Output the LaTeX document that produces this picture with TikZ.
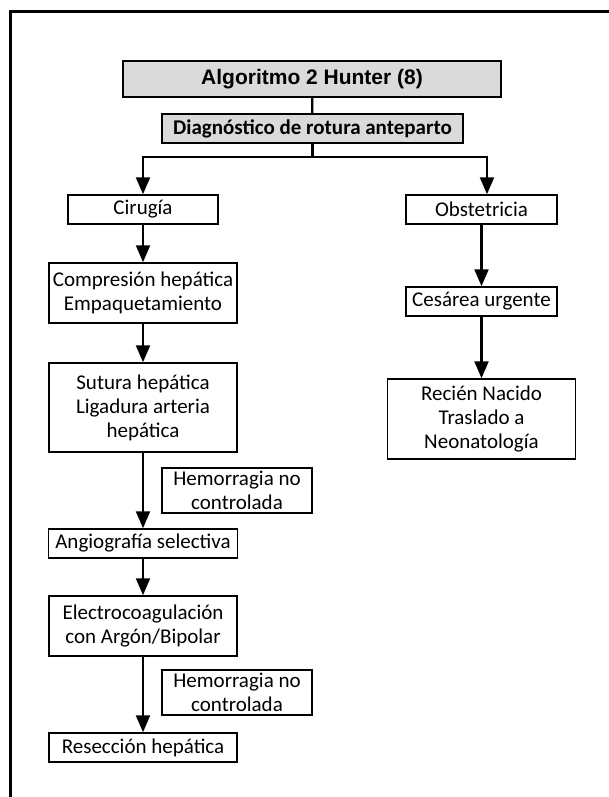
\documentclass[tikz,border=0pt]{standalone}
\usepackage{fontspec}
\setmainfont{Carlito}
\newfontfamily\arialfont{Liberation Sans}
\usetikzlibrary{arrows.meta}
\definecolor{grisclaro}{RGB}{218,218,218}
\tikzset{
  caja/.style={draw=black,line width=1.5pt,align=center,inner sep=0pt,font=\fontsize{21}{24}\selectfont},
  cajagris/.style={caja,fill=grisclaro},
  flecha/.style={line width=2.2pt,-{Triangle[length=17pt,width=14pt]}},
  linea/.style={line width=2.2pt}
}
\begin{document}
\begin{tikzpicture}[x=1pt,y=-1pt]
	\useasboundingbox (0,0) rectangle (609,797);
	\draw[line width=3pt] (609,12) -- (10,12) -- (10,797);
	% cabecera
	\node[cajagris,minimum width=378pt,minimum height=36pt,font=\arialfont\bfseries\fontsize{21}{24}\selectfont](titulo) at (312,79){Algoritmo 2 Hunter (8)};
	\node[cajagris,minimum width=301pt,minimum height=29pt,font=\bfseries\fontsize{21}{24}\selectfont](diag) at (312.5,128.5){Diagnóstico de rotura anteparto};
	\coordinate (ramal) at (312.5,157);
	% rama cirugia
	\node[caja,minimum width=150pt,minimum height=29pt](cirugia) at (143,209.5){Cirugía};
	\node[caja,minimum width=188pt,minimum height=60pt](compresion) at (143,293){Compresión hepática\\Empaquetamiento};
	\node[caja,minimum width=188pt,minimum height=89pt](sutura) at (143,407.5){Sutura hepática\\Ligadura arteria\\hepática};
	\node[caja,minimum width=150pt,minimum height=45pt](hem1) at (237,490.5){Hemorragia no\\controlada};
	\node[caja,minimum width=189pt,minimum height=29pt](angio) at (143,543.5){Angiografía selectiva};
	\node[caja,minimum width=188pt,minimum height=60pt](electro) at (143,626){Electrocoagulación\\con Argón/Bipolar};
	\node[caja,minimum width=150pt,minimum height=45pt](hem2) at (237,692.5){Hemorragia no\\controlada};
	\node[caja,minimum width=188pt,minimum height=29pt](reseccion) at (143,747.5){Resección hepática};
	% rama obstetricia
	\node[caja,minimum width=151pt,minimum height=29pt](obstetricia) at (481.5,209.5){Obstetricia};
	\node[caja,minimum width=151pt,minimum height=29pt](cesarea) at (481.5,301.5){Cesárea urgente};
	\node[caja,minimum width=188pt,minimum height=80pt](recien) at (481.5,419){Recién Nacido\\Traslado a\\Neonatología};
	% conexiones
	\draw[linea] (titulo) -- (diag);
	\draw[linea] (diag.south) -- (ramal);
	\draw[flecha] (ramal) -| (cirugia.north);
	\draw[flecha] (ramal) -| ([xshift=5.5pt]obstetricia.north);
	\draw[flecha] (cirugia) -- (compresion);
	\draw[flecha] (compresion) -- (sutura);
	\draw[flecha] (sutura) -- (angio);
	\draw[flecha] (angio) -- (electro);
	\draw[flecha] (electro) -- (reseccion);
	\draw[flecha] (obstetricia) -- (cesarea);
	\draw[flecha] (cesarea) -- (recien);
\end{tikzpicture}
\end{document}
